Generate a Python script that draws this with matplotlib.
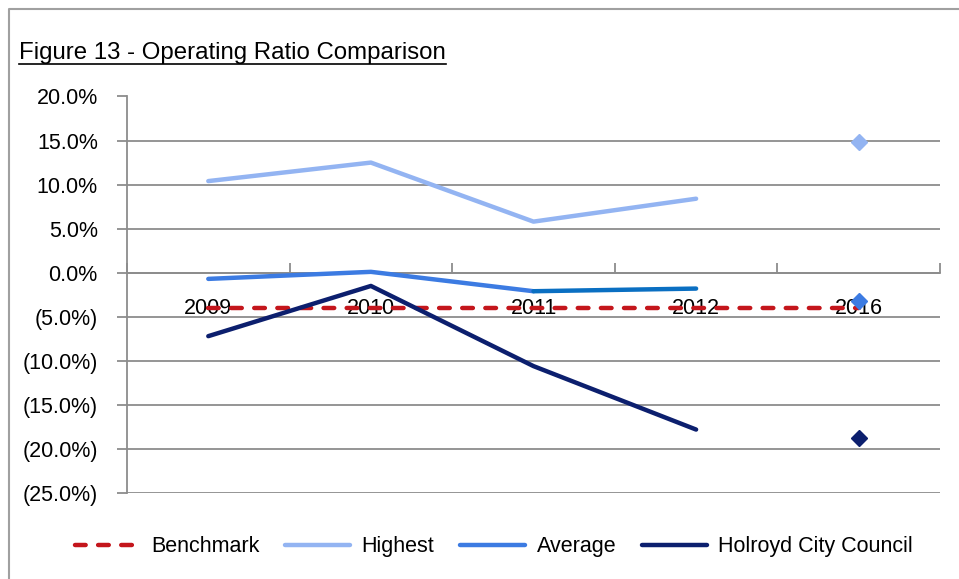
import numpy as np
import matplotlib.pyplot as plt
from matplotlib.lines import Line2D
from matplotlib.ticker import FuncFormatter

plt.rcParams['font.family'] = ['Liberation Sans', 'DejaVu Sans']

years = ['2009', '2010', '2011', '2012', '2016']
benchmark = [-4.0, -4.0, -4.0, -4.0, -4.0]
highest = [10.4, 12.5, 5.8, 8.4, 14.8]
average = [-0.7, 0.1, -2.1, -1.8, -3.2]
holroyd = [-7.2, -1.5, -10.6, -17.8, -18.8]

c_bench = '#C4161C'
c_high = '#93B4F2'
c_avg = '#3C7BE2'
c_avg2 = '#0A6FC2'
c_hol = '#0C1F6E'

fig = plt.figure(figsize=(9.59, 5.79), dpi=100)
ax = fig.add_axes([127 / 959, 1 - 493 / 579, (940 - 127) / 959, (493 - 96.5) / 579])

x = np.arange(len(years))

# series are drawn 2009-2012 as lines, 2016 as a lone marker
ax.plot(x, benchmark, color=c_bench, lw=3.2, ls=(0, (2.4, 2.8)),
        dash_capstyle='round', zorder=3, label='Benchmark')
ax.plot(x[:4], highest[:4], color=c_high, lw=3.2, solid_capstyle='round',
        zorder=4, label='Highest')
ax.plot(x[4], highest[4], marker='D', color=c_high, ms=8, zorder=4)
ax.plot(x[:3], average[:3], color=c_avg, lw=3.2, solid_capstyle='round',
        zorder=4, label='Average')
ax.plot(x[2:4], average[2:4], color=c_avg2, lw=3.2, solid_capstyle='round', zorder=4)
ax.plot(x[4], average[4], marker='D', color=c_avg, ms=8, zorder=4)
ax.plot(x[:4], holroyd[:4], color=c_hol, lw=3.2, solid_capstyle='round',
        zorder=4, label='Holroyd City Council')
ax.plot(x[4], holroyd[4], marker='D', color=c_hol, ms=8, zorder=4)

ax.set_xlim(-0.5, 4.5)
ax.set_ylim(-25, 20)
ax.set_yticks(np.arange(-25, 21, 5))


def pct(v, pos):
    if v < 0:
        return '({:.1f}%)'.format(-v)
    return '{:.1f}%'.format(v)


ax.yaxis.set_major_formatter(FuncFormatter(pct))
ax.grid(axis='y', color='#8C8C8C', lw=1.3)
ax.set_axisbelow(True)

for s in ['top', 'right']:
    ax.spines[s].set_visible(False)
ax.spines['left'].set_color('#8C8C8C')
ax.spines['left'].set_linewidth(1.3)
ax.spines['bottom'].set_position(('data', 0))
ax.spines['bottom'].set_color('#8C8C8C')
ax.spines['bottom'].set_linewidth(1.3)

ax.set_xticks(x)
ax.set_xticklabels(years)
ax.set_xticks(np.arange(-0.5, 4.6, 1), minor=True)
ax.tick_params(axis='x', which='major', length=0, pad=18, labelsize=15.5)
ax.tick_params(axis='x', which='minor', length=7, direction='in',
               color='#8C8C8C', width=1.3)
ax.tick_params(axis='y', length=7, color='#8C8C8C', width=1.3, labelsize=15.5, pad=14)
for lab in ax.get_xticklabels():
    lab.set_zorder(6)

fig.legend(loc='lower center', bbox_to_anchor=(0.515, 0.004), ncol=4, frameon=False,
           fontsize=15.5, handlelength=3.0, columnspacing=1.2, handletextpad=0.55)

title = fig.text(19 / 959, 1 - 59 / 579, 'Figure 13 - Operating Ratio Comparison',
                 fontsize=17.3, ha='left', va='baseline')
fig.canvas.draw()
bb = title.get_window_extent()
uy = 1 - 63.5 / 579
fig.lines.append(Line2D([bb.x0 / 959, bb.x1 / 959], [uy, uy], color='black', lw=1.2,
                        transform=fig.transFigure))

# outer frame
fig.lines.append(Line2D([9 / 959, 9 / 959, 1.0], [0, 1 - 9 / 579, 1 - 9 / 579],
                        color='#A0A0A0', lw=1.5, transform=fig.transFigure))

fig.savefig('out.png', dpi=100)
